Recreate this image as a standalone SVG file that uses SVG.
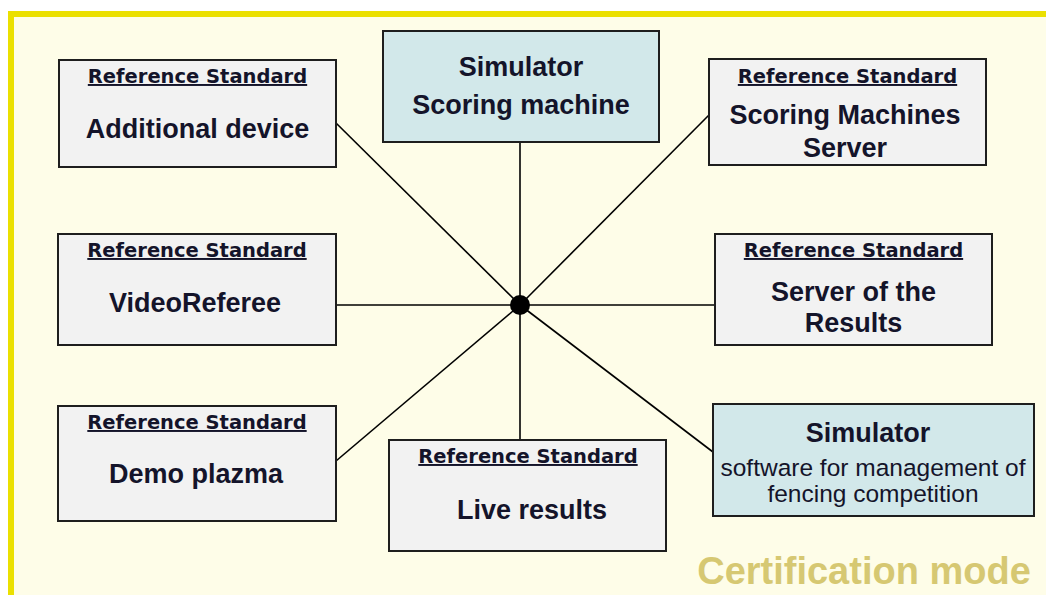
<svg xmlns="http://www.w3.org/2000/svg" width="1046" height="595" viewBox="0 0 1046 595">
<style>
.box{fill:#f2f2f2;stroke:#1e1e1e;stroke-width:2}
.sim{fill:#d2e8ea;stroke:#1e1e1e;stroke-width:2}
.ref{font-family:"DejaVu Sans",Verdana,sans-serif;font-weight:bold;font-size:19.5px;fill:#14142a;text-anchor:middle;text-decoration:underline}
.lbl{font-family:"Liberation Sans",Arial,sans-serif;font-weight:bold;font-size:27px;fill:#14142a;text-anchor:middle}
.small{font-family:"Liberation Sans",Arial,sans-serif;font-size:24.5px;fill:#14142a;text-anchor:middle}
.conn line{stroke:#000;stroke-width:1.6}
</style>
<rect x="0" y="0" width="1046" height="595" fill="#ffffff"/>
<rect x="11" y="14" width="1100" height="700" fill="#fefde8" stroke="#ebe000" stroke-width="6"/>
<g id="connectors" class="conn">
<line x1="520" y1="305" x2="520" y2="142" stroke-width="2"/>
<line x1="520" y1="305" x2="520" y2="440" stroke-width="2"/>
<line x1="520" y1="305" x2="336" y2="305" stroke-width="2"/>
<line x1="520" y1="305" x2="715" y2="305" stroke-width="2"/>
<line x1="520" y1="305" x2="336" y2="123"/>
<line x1="520" y1="305" x2="709" y2="115"/>
<line x1="520" y1="305" x2="336" y2="461"/>
<line x1="520" y1="305" x2="713" y2="452"/>
<circle cx="520" cy="305" r="10" fill="#000"/>
</g>
<g id="additional-device">
<rect class="box" x="59" y="60" width="277" height="107"/>
<text class="ref" x="197.5" y="83">Reference Standard</text>
<text class="lbl" x="197.5" y="138">Additional device</text>
</g>
<g id="scoring-machine">
<rect class="sim" x="383" y="31" width="276" height="111"/>
<text class="lbl" x="521" y="75.5">Simulator</text>
<text class="lbl" x="521" y="114">Scoring machine</text>
</g>
<g id="scoring-machines-server">
<rect class="box" x="709" y="59" width="277" height="106"/>
<text class="ref" x="847.5" y="83">Reference Standard</text>
<text class="lbl" x="845" y="124">Scoring Machines</text>
<text class="lbl" x="845" y="157">Server</text>
</g>
<g id="videoreferee">
<rect class="box" x="58" y="234" width="278" height="111"/>
<text class="ref" x="197" y="257">Reference Standard</text>
<text class="lbl" x="195" y="312">VideoReferee</text>
</g>
<g id="server-of-results">
<rect class="box" x="715" y="234" width="277" height="111"/>
<text class="ref" x="853.5" y="257">Reference Standard</text>
<text class="lbl" x="853.5" y="301">Server of the</text>
<text class="lbl" x="853.5" y="332">Results</text>
</g>
<g id="demo-plazma">
<rect class="box" x="58" y="406" width="278" height="115"/>
<text class="ref" x="197" y="429">Reference Standard</text>
<text class="lbl" x="196" y="483">Demo plazma</text>
</g>
<g id="live-results">
<rect class="box" x="389" y="440" width="277" height="111"/>
<text class="ref" x="528" y="463">Reference Standard</text>
<text class="lbl" x="532" y="519">Live results</text>
</g>
<g id="competition-software">
<rect class="sim" x="713" y="404" width="321" height="112"/>
<text class="lbl" x="868" y="442">Simulator</text>
<text class="small" x="873" y="476">software for management of</text>
<text class="small" x="873" y="502">fencing competition</text>
</g>
<text x="864" y="584" font-family="Liberation Sans, Arial, sans-serif" font-weight="bold" font-size="38" fill="#d6c872" text-anchor="middle">Certification mode</text>
</svg>
